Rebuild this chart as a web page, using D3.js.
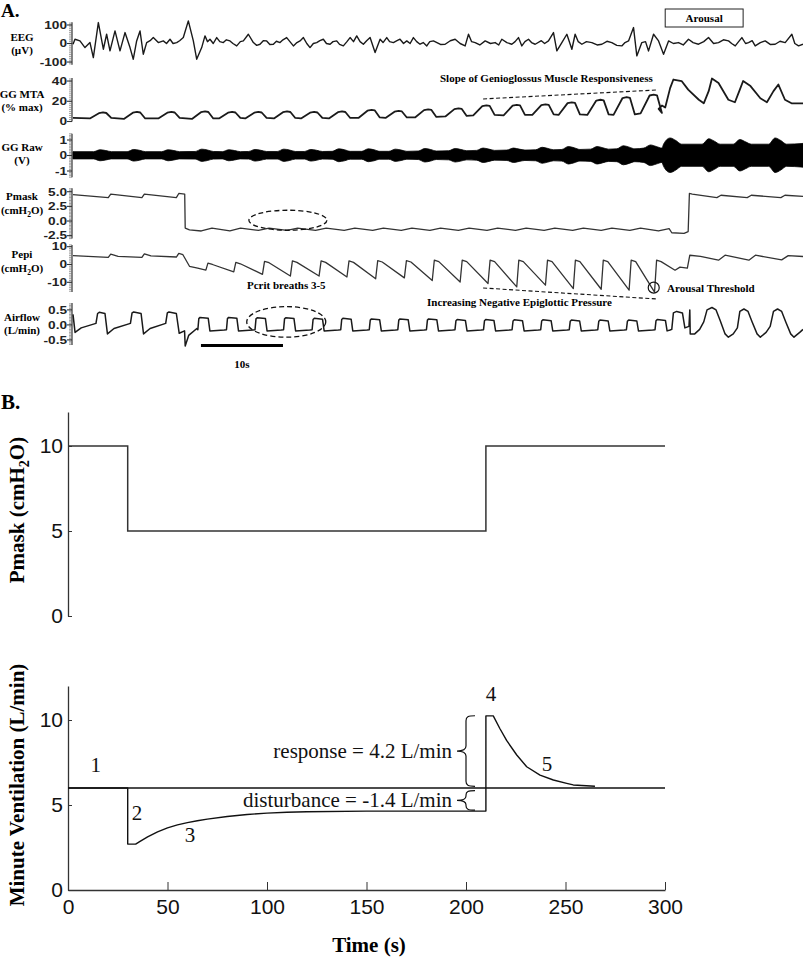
<!DOCTYPE html>
<html><head><meta charset="utf-8">
<script src="https://cdn.jsdelivr.net/npm/d3@7"></script>
<style>body{margin:0;background:#fff}svg{display:block}</style>
</head><body>
<svg id="c" width="803" height="958"></svg>
<script>
// ================= DATA =================
const timeSpanA = [0, 89];
// EEG (µV) keypoints [t, value]
const eegPts = [[0,-4],[0.24,23],[0.85,14],[1.46,-22],[2.07,5],[2.48,-76],[3.09,113],[3.7,-31],[4.1,50],[4.51,-40],[5.12,68],[5.73,-40],[6.34,59],[6.95,-22],[7.35,-85],[7.76,14],[8.17,68],[8.57,-58],[8.98,5],[9.4,15],[9.79,32],[10.4,5],[11.01,14],[11.4,0],[11.83,23],[12.2,0],[12.64,5],[13.0,15],[13.45,32],[14.06,122],[14.67,14],[15.08,-85],[15.69,-22],[16.09,41],[16.4,10],[16.7,23],[17.1,0],[17.52,32],[17.9,10],[18.33,5],[18.7,20],[19.14,14],[19.5,0],[19.96,-13],[20.4,10],[20.77,14],[21.38,50],[21.99,5],[22.4,-10],[22.8,-4],[23.2,15],[23.61,14],[24.0,-5],[24.43,-4],[24.8,12],[25.24,5],[25.6,20],[26.05,32],[26.87,-13],[27.3,5],[27.68,14],[28.09,32],[28.5,0],[28.9,-22],[29.3,0],[29.71,5],[30.1,15],[30.52,23],[30.9,0],[31.34,-4],[31.7,10],[32.15,14],[32.5,-5],[32.96,-13],[33.4,10],[33.78,32],[34.2,10],[34.59,41],[35.0,10],[35.4,-4],[35.8,15],[36.22,32],[36.83,-49],[37.44,23],[37.8,5],[38.25,32],[38.6,10],[39.06,5],[39.5,15],[39.87,23],[40.3,0],[40.69,14],[41.1,0],[41.5,32],[41.9,10],[42.31,-4],[42.7,5],[43.13,-13],[43.5,10],[43.94,14],[44.8,-5],[45.37,-4],[46.0,15],[46.59,23],[47.2,0],[47.81,-13],[48.22,50],[48.6,10],[49.03,5],[49.6,-8],[50.25,14],[50.9,0],[51.47,5],[51.9,-8],[52.28,23],[52.9,5],[53.5,-4],[53.9,10],[54.31,32],[54.72,-13],[55.1,10],[55.53,23],[55.9,5],[56.35,-4],[57.1,15],[57.5,0],[57.97,14],[58.58,59],[58.99,-40],[59.6,5],[60.21,50],[60.82,-31],[61.22,50],[61.6,10],[62.04,-4],[62.6,10],[63.26,5],[63.9,-8],[64.48,-4],[65.1,12],[65.69,5],[66.3,-10],[66.91,-13],[67.3,5],[67.73,14],[68.34,86],[68.74,-67],[69.35,5],[69.8,10],[70.17,-40],[70.78,50],[71.39,14],[72.0,-58],[72.61,14],[73.2,0],[73.82,5],[74.4,-8],[75.04,23],[75.6,5],[76.26,-4],[76.9,10],[77.48,32],[78.1,0],[78.7,5],[79.3,20],[79.92,14],[80.3,0],[80.74,-13],[81.15,10],[81.55,32],[82.0,0],[82.36,5],[82.8,15],[83.17,-13],[83.8,5],[84.39,14],[85.0,-5],[85.61,-4],[86.2,12],[86.83,5],[87.64,50],[88.0,0],[88.46,-13],[89,-4]];

// GG MTA (% max): per-breath peaks
const ggPeakT   = [3.66, 7.8, 12.0, 16.1, 19.4, 22.6, 26.1, 29.4, 32.8, 36.4, 39.7, 43.3, 47.0, 50.4, 54.1, 57.6, 60.8, 64.3, 67.5, 70.8];
const ggPeakV   = [9, 9.5, 9.5, 10, 9.5, 9.5, 10, 9.5, 10, 11.5, 10.5, 12, 13, 16, 16.5, 17, 19, 21.5, 24, 26.5];
const ggTroughV = [3, 2.5, 3, 2.5, 3, 3, 3, 3, 3, 3.5, 3.5, 4, 5, 6, 6, 6.5, 6.5, 6.5, 6.5, 8];
const ggArousalPts = [[71.4,12.5],[71.8,15.8],[72.2,13.8],[72.8,33],[73.2,41.5],[74.2,40],[75.0,31.5],[76.3,21.5],[76.9,18],[77.5,30],[77.9,42.5],[78.7,38],[79.9,21.5],[80.7,19],[81.3,31.5],[81.7,40],[82.6,35],[83.8,23],[84.6,19],[85.4,30],[86.0,36.5],[86.8,21.5],[87.6,18],[89,18]];

// GG Raw (V): envelope bursts
const rawBurstT   = [3.7, 7.8, 12.0, 16.1, 19.4, 22.6, 26.1, 29.4, 32.8, 36.4, 39.7, 43.3, 47.0, 50.4, 54.1, 57.6, 60.8, 64.3, 67.5, 70.8, 73.2, 77.9, 81.7, 86.0];
const rawBurstAmp = [0.34,0.36,0.34,0.38,0.34,0.36,0.38,0.36,0.4,0.4,0.38,0.42,0.42,0.45,0.45,0.5,0.55,0.55,0.6,0.65,1.1,1.05,1.0,1.1];
const rawBaseAmp  = [0.22,0.22,0.22,0.23,0.22,0.23,0.23,0.23,0.24,0.24,0.24,0.26,0.28,0.3,0.32,0.34,0.36,0.38,0.4,0.45,0.7,0.7,0.7,0.7];

// Airflow (L/min)
const airHoldPts = [[0,0.35],[0.25,-0.25],[1.0,-0.1],[2.8,0.05],[3.0,0.38],[3.2,0.42],[3.9,0.38],[4.2,-0.3],[5.0,-0.12],[7.0,0.05],[7.2,0.4],[7.4,0.43],[8.3,0.38],[8.6,-0.3],[9.4,-0.12],[11.3,0.05],[11.5,0.4],[11.7,0.43],[12.6,0.38],[12.95,-0.28],[13.6,-0.2],[13.68,-0.7],[14.1,-0.35],[15.1,-0.12]];
const airOnT   = [15.24, 18.73, 22.21, 25.69, 29.17, 32.66, 36.14, 39.62, 43.11, 46.59, 50.07, 53.55, 57.04, 60.52, 64.0, 67.49, 70.98];
const airPeakV = [0.25, 0.25, 0.24, 0.24, 0.22, 0.22, 0.2, 0.2, 0.2, 0.18, 0.18, 0.17, 0.17, 0.16, 0.16, 0.16, 0.18];
const airLowV  = [-0.2,-0.2,-0.2,-0.2,-0.2,-0.2,-0.2,-0.2,-0.2,-0.2,-0.2,-0.2,-0.2,-0.2,-0.2,-0.2,-0.2];
const airArousalPts = [[73.0,-0.15],[73.2,0.4],[73.6,0.45],[74.3,0.4],[74.6,-0.1],[75.1,-0.05],[75.2,0.5],[75.25,-0.3],[75.8,-0.3],[76.4,-0.15],[76.9,0.1],[77.3,0.5],[77.9,0.58],[78.4,0.5],[78.9,0.15],[79.5,-0.3],[79.9,-0.41],[80.5,-0.3],[81.0,-0.1],[81.3,0.45],[81.8,0.53],[82.3,0.45],[82.8,0.1],[83.4,-0.3],[83.8,-0.41],[84.5,-0.25],[85.0,-0.05],[85.4,0.45],[85.9,0.53],[86.4,0.45],[86.9,0.1],[87.5,-0.3],[87.9,-0.41],[88.6,-0.25],[89,-0.15]];

// Pmask (cmH2O) panel A
const pmaskHoldPts = [[0,4.5],[4.3,4.0],[4.6,4.6],[8.4,4.0],[8.7,4.6],[12.6,4.0],[12.9,4.7],[13.62,4.6],[13.68,-1.2],[14.2,-1.5]];
const pmaskDipV  = [-1.7,-1.7,-1.6,-1.6,-1.6,-1.6,-1.6,-1.6,-1.6,-1.6,-1.6,-1.6,-1.6,-1.6,-1.6,-1.6,-1.7];
const pmaskHumpV = [-1.2,-1.2,-1.2,-1.2,-1.2,-1.2,-1.2,-1.2,-1.2,-1.2,-1.2,-1.2,-1.2,-1.2,-1.2,-1.2,-1.3];
const pmaskArousalPts = [[73.0,-2.0],[74.5,-2.1],[75.0,-1.8],[75.15,4.7],[75.5,4.6],[78.5,4.0],[79.0,4.4],[82.2,4.0],[82.7,4.4],[86.3,4.0],[86.8,4.4],[89,4.2]];

// Pepi (cmH2O)
const pepiHoldPts = [[0,5.0],[4.3,4.0],[4.6,5.8],[5.5,4.6],[8.4,4.0],[8.7,6.0],[9.5,4.8],[12.6,4.2],[12.9,6.2],[13.4,5.5],[14.2,-1.0],[15.2,-2.0]];
const pepiTroughT = [16.2, 19.6, 23.1, 26.5, 30.0, 33.4, 36.9, 40.4, 43.8, 47.2, 50.6, 54.1, 57.6, 61.0, 64.4, 67.8, 70.9];
const pepiTroughV = [-3.2, -4.1, -5.5, -6.5, -6.5, -7, -8, -7.5, -9, -9.8, -10.7, -12.6, -11.6, -13.5, -13.9, -14.4, -15.5];
const pepiPeakV   = [0.8, 1.2, 1.8, 2, 2, 2, 2.2, 2.2, 2.4, 2.4, 2.4, 2.4, 2.4, 2.4, 2.4, 2.4, 2.4];
const pepiArousalPts = [[73.4,-3.2],[74.0,-1.5],[74.9,-2.0],[75.2,5.2],[76.5,4.6],[78.7,2.4],[79.5,5.2],[82.4,2.4],[83.2,5.2],[86.4,2.6],[87.2,5.0],[89,4.5]];

// Tick values / labels panel A
const eegTicks = [100, 0, -100];
const ggTicks = [40, 20, 0];
const rawTicks = [1, 0, -1];
const pmaskTicks = [5, 2.5, 0, -2.5], pmaskTickLabels = ['5.0','2.5','0.0','-2.5'];
const pepiTicks = [10, 0, -10];
const airTicks = [0.5, 0, -0.5], airTickLabels = ['0.5','0.0','-0.5'];

// Panel B
const pmaskBPts = [[0,10],[30,10],[30,5],[210,5],[210,10],[300,10]];
const ventPts = [[0,6],[30,6],[30,2.7],[34,2.7],[36,2.85],[40,3.12],[45,3.42],[50,3.65],[55,3.83],[60,3.96],[65,4.07],[70,4.17],[80,4.32],[90,4.44],[100,4.52],[110,4.57],[120,4.6],[150,4.64],[210,4.65],[210,10.24],[213.7,10.24],[217,9.5],[220.4,8.8],[225.5,7.94],[230.5,7.25],[237.2,6.76],[243.9,6.47],[250.6,6.27],[253.9,6.18],[264.8,6.1]];
const ventBaseline = [[0,6],[300,6]];
const timeTicksB = [0,50,100,150,200,250,300];
const yTicksB = [0,5,10];
const responseBrace = {t:200, top:10.25, bottom:6.1, label:'response = 4.2 L/min'};
const disturbBrace = {t:200, top:5.85, bottom:4.7, label:'disturbance = -1.4 L/min'};
const phaseLabels = [{t:14,v:6.95,s:'1'},{t:34.7,v:4.12,s:'2'},{t:61.3,v:2.82,s:'3'},{t:212.6,v:11.1,s:'4'},{t:240.7,v:7.0,s:'5'}];

// ================= BUILD SERIES =================
const ggPts = [[0,3.5]];
ggPeakT.forEach((T,i)=>{ ggPts.push([T-1.6,ggTroughV[i]],[T-0.5,ggPeakV[i]-0.8],[T,ggPeakV[i]],[T+0.4,ggPeakV[i]-0.6],[T+1.0,ggTroughV[i]+0.5]); });
ggPts.push(...ggArousalPts);

const airPts = [...airHoldPts];
airOnT.forEach((T,i)=>{ airPts.push([T-0.02,airLowV[i]+0.04],[T+0.1,airPeakV[i]-0.04],[T+0.25,airPeakV[i]],[T+1.25,airPeakV[i]-0.03],[T+1.45,airLowV[i]]);
  if(i<airOnT.length-1) airPts.push([airOnT[i+1]-0.3,airLowV[i]+0.03]); else airPts.push([72.8,airLowV[i]+0.03]); });
airPts.push(...airArousalPts);

const pmaskPts = [...pmaskHoldPts];
airOnT.forEach((T,i)=>{ pmaskPts.push([T+0.4,pmaskDipV[i]],[T+1.7,pmaskHumpV[i]]); });
pmaskPts.push(...pmaskArousalPts);

const pepiPts = [...pepiHoldPts];
pepiTroughT.forEach((T,i)=>{ pepiPts.push([T,pepiTroughV[i]],[T+0.25,pepiPeakV[i]],[T+0.8,pepiPeakV[i]-0.8]); });
pepiPts.push(...pepiArousalPts);

const rawEnv = [[0,0.22]];
rawBurstT.forEach((T,i)=>{ rawEnv.push([T-1.2,rawBaseAmp[i]],[T-0.4,rawBurstAmp[i]],[T+0.3,rawBurstAmp[i]*0.85],[T+1.0,rawBaseAmp[i]]); });
rawEnv.push([89,0.75]);

// ================= DRAW =================
const svg = d3.select('#c');
const serif = '"Liberation Serif","Times New Roman",serif';
const sans = '"Liberation Sans",Arial,sans-serif';

svg.append('text').attr('x',1).attr('y',17).style('font',`bold 19px ${serif}`).text('A.');
svg.append('text').attr('x',1).attr('y',409).style('font',`bold 21px ${serif}`).text('B.');

const xA = d3.scaleLinear().domain(timeSpanA).range([73,803]);
const axisX = 72;

const chans = [
  {key:'eeg', l1:'EEG', l2:'(µV)', b1:40.7, b2:54, domain:[-115,115], range:[64.8,22.2], ticks:eegTicks, labels:eegTicks.map(String), minor:10},
  {key:'gg', l1:'GG MTA', l2:'(% max)', b1:98, b2:111, domain:[0,43], range:[121.5,78], ticks:ggTicks, labels:ggTicks.map(String), minor:2},
  {key:'raw', l1:'GG Raw', l2:'(V)', b1:150.5, b2:164, domain:[-1.4,1.4], range:[177.2,133.8], ticks:rawTicks, labels:rawTicks.map(String), minor:0.1},
  {key:'pmask', l1:'Pmask', l2:'cm', b1:199.5, b2:214, domain:[-3.0,5.6], range:[238.6,188.2], ticks:pmaskTicks, labels:pmaskTickLabels, minor:0.25},
  {key:'pepi', l1:'Pepi', l2:'cm', b1:258, b2:272, domain:[-15.5,11], range:[292.1,244.9], ticks:pepiTicks, labels:pepiTicks.map(String), minor:1},
  {key:'air', l1:'Airflow', l2:'(L/min)', b1:321, b2:334, domain:[-0.67,0.73], range:[345,303], ticks:airTicks, labels:airTickLabels, minor:0.05}
];
const scales = {};
chans.forEach(c=>{
  const y = d3.scaleLinear().domain(c.domain).range(c.range);
  scales[c.key]=y;
  const g = svg.append('g');
  g.append('line').attr('x1',axisX).attr('x2',axisX).attr('y1',c.range[0]).attr('y2',c.range[1]).attr('stroke','#333').attr('stroke-width',1.2);
  const n0 = Math.ceil(c.domain[0]/c.minor-1e-6), n1 = Math.floor(c.domain[1]/c.minor+1e-6);
  for(let k=n0;k<=n1;k++){ const yy=y(k*c.minor);
    g.append('line').attr('x1',axisX-3).attr('x2',axisX).attr('y1',yy).attr('y2',yy).attr('stroke','#777').attr('stroke-width',0.7); }
  c.ticks.forEach((t,i)=>{ const yy=y(t);
    g.append('line').attr('x1',axisX-5).attr('x2',axisX).attr('y1',yy).attr('y2',yy).attr('stroke','#333').attr('stroke-width',1.1);
    g.append('text').attr('transform',`translate(67,${yy}) scale(1.3,1)`).attr('text-anchor','end').attr('dy','0.36em')
      .style('font',`bold 10.5px ${sans}`).attr('fill','#222').text(c.labels[i]); });
  const lab = g.append('g').style('font',`bold 11px ${serif}`).attr('text-anchor','middle');
  lab.append('text').attr('x',22).attr('y',c.b1).text(c.l1);
  if(c.l2==='cm'){ const t=lab.append('text').attr('x',22).attr('y',c.b2);
    t.append('tspan').text('(cmH'); t.append('tspan').attr('dy',2.5).style('font-size','7.5px').text('2'); t.append('tspan').attr('dy',-2.5).text('O)');
  } else lab.append('text').attr('x',22).attr('y',c.b2).text(c.l2);
});

function trace(pts, key, w, col){
  const y=scales[key];
  svg.append('path').datum(pts).attr('fill','none').attr('stroke',col||'#1a1a1a').attr('stroke-width',w||1.3)
    .attr('stroke-linejoin','round').attr('d',d3.line().x(d=>xA(d[0])).y(d=>y(d[1])));
}
trace(eegPts,'eeg',1.4);
trace(ggPts,'gg',1.8);
svg.append('path').datum(rawEnv).attr('fill','#000').attr('stroke','#000').attr('stroke-width',0.8)
  .attr('d',d3.area().curve(d3.curveMonotoneX).x(d=>xA(d[0])).y0(d=>scales.raw(-d[1])).y1(d=>scales.raw(d[1]+0.03)));
trace(pmaskPts,'pmask',1.3,'#333');
trace(pepiPts,'pepi',1.3,'#333');
trace(airPts,'air',1.5);

// Panel A annotations
const annFont = `bold 11px ${serif}`;
svg.append('rect').attr('x',xA(72.2)).attr('y',9).attr('width',xA(81.7)-xA(72.2)).attr('height',18).attr('fill','#fff').attr('stroke','#222').attr('stroke-width',1);
svg.append('text').attr('x',(xA(72.2)+xA(81.7))/2).attr('y',22).attr('text-anchor','middle').style('font',annFont).text('Arousal');
svg.append('text').attr('x',440).attr('y',82).style('font',annFont).text('Slope of Genioglossus Muscle Responsiveness');
svg.append('line').attr('x1',xA(50)).attr('y1',scales.gg(22.3)).attr('x2',xA(71.3)).attr('y2',scales.gg(31.2)).attr('stroke','#111').attr('stroke-width',1.1).attr('stroke-dasharray','4,2.5');
svg.append('line').attr('x1',xA(50)).attr('y1',scales.pepi(-13.2)).attr('x2',xA(71.3)).attr('y2',scales.pepi(-19.4)).attr('stroke','#111').attr('stroke-width',1.1).attr('stroke-dasharray','4,2.5');
svg.append('text').attr('x',247).attr('y',289).style('font',annFont).text('Pcrit breaths 3-5');
svg.append('text').attr('x',427).attr('y',306).style('font',annFont).text('Increasing Negative Epiglottic Pressure');
svg.append('text').attr('x',667).attr('y',292).style('font',annFont).text('Arousal Threshold');
svg.append('circle').attr('cx',xA(70.8)).attr('cy',scales.pepi(-13.0)).attr('r',5.5).attr('fill','none').attr('stroke','#111').attr('stroke-width',1.2);
svg.append('ellipse').attr('cx',xA(26.2)).attr('cy',scales.pmask(0.13)).attr('rx',39).attr('ry',10).attr('fill','none').attr('stroke','#111').attr('stroke-width',1.3).attr('stroke-dasharray','5,3');
svg.append('ellipse').attr('cx',xA(26.0)).attr('cy',scales.air(0.1)).attr('rx',39.5).attr('ry',15.3).attr('fill','none').attr('stroke','#111').attr('stroke-width',1.3).attr('stroke-dasharray','5,3');
svg.append('line').attr('x1',xA(15.6)).attr('x2',xA(25.6)).attr('y1',345.5).attr('y2',345.5).attr('stroke','#000').attr('stroke-width',3);
svg.append('text').attr('x',(xA(15.6)+xA(25.6))/2).attr('y',368).attr('text-anchor','middle').style('font',annFont).text('10s');

// ================= PANEL B =================
const xB = d3.scaleLinear().domain([0,300]).range([68,665]);
const yP = d3.scaleLinear().domain([0,12]).range([616,412]);
const yV = d3.scaleLinear().domain([0,12]).range([890,686]);

function yAxisB(scale){
  const g=svg.append('g').attr('transform','translate(68,0)')
    .call(d3.axisLeft(scale).tickValues(yTicksB).tickSizeInner(-4).tickSizeOuter(0).tickPadding(5));
  g.selectAll('text').style('font',`21px ${sans}`).attr('fill','#111');
  g.select('.domain').attr('stroke','#333').attr('stroke-width',1.3);
  g.selectAll('.tick line').attr('stroke','#333');
  return g;
}
yAxisB(yP); yAxisB(yV);
const gx = svg.append('g').attr('transform','translate(0,890)')
  .call(d3.axisBottom(xB).tickValues(timeTicksB).tickSizeInner(-8).tickSizeOuter(0).tickPadding(9));
gx.selectAll('text').style('font',`21px ${sans}`).attr('fill','#111');
gx.select('.domain').attr('stroke','#333').attr('stroke-width',1.3);
gx.selectAll('.tick line').attr('stroke','#333');

svg.append('path').datum(pmaskBPts).attr('fill','none').attr('stroke','#333').attr('stroke-width',1.5)
  .attr('d',d3.line().x(d=>xB(d[0])).y(d=>yP(d[1])));
const lineV = d3.line().x(d=>xB(d[0])).y(d=>yV(d[1]));
svg.append('path').datum(ventBaseline).attr('fill','none').attr('stroke','#111').attr('stroke-width',1.3).attr('d',lineV);
svg.append('path').datum(ventPts).attr('fill','none').attr('stroke','#111').attr('stroke-width',1.4).attr('stroke-linejoin','round').attr('d',lineV);

function brace(b){
  const x0=xB(b.t), yt=yV(b.top), yb=yV(b.bottom), ym=(yt+yb)/2;
  const r=Math.min(5,(ym-yt)/2.2);
  const p=`M${x0+9},${yt} C${x0+2},${yt} ${x0},${yt+1} ${x0},${yt+r} L${x0},${ym-r} C${x0},${ym-1} ${x0-3},${ym} ${x0-9},${ym} C${x0-3},${ym} ${x0},${ym+1} ${x0},${ym+r} L${x0},${yb-r} C${x0},${yb-1} ${x0+2},${yb} ${x0+9},${yb}`;
  svg.append('path').attr('d',p).attr('fill','none').attr('stroke','#111').attr('stroke-width',1.2);
  svg.append('text').attr('x',x0-14).attr('y',ym+6.5).attr('text-anchor','end').style('font',`21px ${serif}`).attr('fill','#111').text(b.label);
}
brace(responseBrace); brace(disturbBrace);
phaseLabels.forEach(p=>svg.append('text').attr('x',xB(p.t)).attr('y',yV(p.v)).attr('text-anchor','middle').style('font',`21px ${serif}`).attr('fill','#111').text(p.s));

// Axis titles
const pt = svg.append('text').attr('transform','translate(24,510) rotate(-90)').attr('text-anchor','middle').style('font',`bold 21px ${serif}`);
pt.append('tspan').text('Pmask (cmH'); pt.append('tspan').attr('dy',5).style('font-size','14px').text('2'); pt.append('tspan').attr('dy',-5).text('O)');
svg.append('text').attr('transform','translate(24,785) rotate(-90)').attr('text-anchor','middle').style('font',`bold 21px ${serif}`).text('Minute Ventilation (L/min)');
svg.append('text').attr('x',369).attr('y',952).attr('text-anchor','middle').style('font',`bold 21px ${serif}`).text('Time (s)');
</script>
</body></html>
